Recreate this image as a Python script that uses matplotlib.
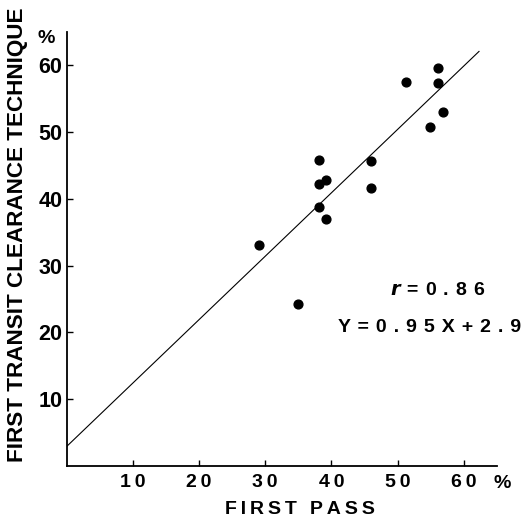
import matplotlib
matplotlib.use("Agg")
import matplotlib.pyplot as plt
import numpy as np

first_pass = [29.1, 35.0, 38.1, 38.1, 39.2, 38.1, 39.2, 46.0, 46.0, 51.3, 56.1, 56.1, 56.9, 54.9]
first_transit = [33.1, 24.3, 45.8, 42.2, 42.8, 38.8, 37.0, 45.7, 41.7, 57.5, 59.6, 57.4, 53.0, 50.8]
slope, intercept = 0.95, 2.9
line_x = [0, 62.3]
xticks = [10, 20, 30, 40, 50, 60]
yticks = [10, 20, 30, 40, 50, 60]

plt.rcParams['font.family'] = ['Liberation Sans', 'DejaVu Sans']
fig = plt.figure(figsize=(5.22, 5.22), dpi=100)
ax = fig.add_axes([0.1274, 0.1073, 0.8245, 0.8315])
ax.set_xlim(0, 65)
ax.set_ylim(0, 65)
for s in ['top', 'right']:
    ax.spines[s].set_visible(False)
for s in ['left', 'bottom']:
    ax.spines[s].set_linewidth(1.3)

lx = np.array(line_x)
ax.plot(lx, slope * lx + intercept, color='black', lw=0.8)
ax.scatter(first_pass, first_transit, s=40, color='black', zorder=3)

ax.set_xticks(xticks)
ax.set_yticks(yticks)
ax.set_xticklabels(["\u2009".join(str(t)) for t in xticks], fontsize=14, fontweight='bold')
ax.set_yticklabels([str(t) for t in yticks], fontsize=15.5, fontweight='bold')
ax.tick_params(direction='in', length=4, width=1)
ax.tick_params(axis='x', pad=6)
ax.tick_params(axis='y', pad=3)

fig.text(0.033, 0.55, "FIRST TRANSIT CLEARANCE TECHNIQUE", rotation=90, ha='center', va='center',
         fontsize=16.2, fontweight='bold')
fig.text(0.574, 0.023, "\u2009".join("FIRST PASS"), ha='center', va='center', fontsize=14, fontweight='bold')
fig.text(0.088, 0.927, "%", ha='center', va='center', fontsize=14, fontweight='bold')
fig.text(0.962, 0.073, "%", ha='center', va='center', fontsize=14, fontweight='bold')

sp = " \u200a"
fig.text(0.839, 0.444, r"$\mathbfit{r}$" + sp + sp.join("=0.86"),
         ha='center', va='center', fontsize=14, fontweight='bold')
fig.text(0.822, 0.372, sp.join("Y=0.95X+2.9"),
         ha='center', va='center', fontsize=14, fontweight='bold')

fig.savefig("out.png", dpi=100)
